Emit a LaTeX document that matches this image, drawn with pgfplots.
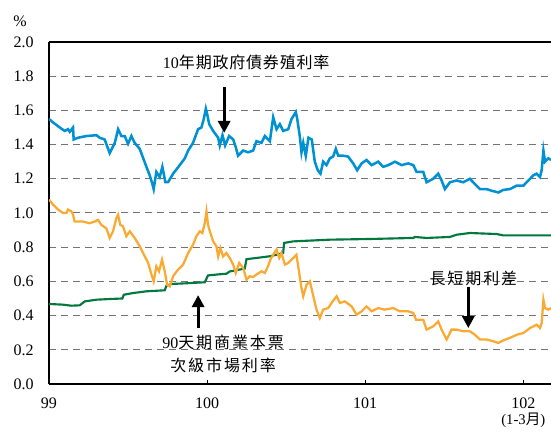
\documentclass[border=0pt]{standalone}
\usepackage{fontspec}
\setmainfont{Liberation Serif}
\newfontfamily\cjk{Noto Sans CJK TC}
\newfontfamily\cjkA[LetterSpace=5]{Noto Sans CJK TC}
\newfontfamily\cjkB[LetterSpace=12]{Noto Sans CJK TC}
\usepackage{pgfplots}
\pgfplotsset{compat=1.18}
\usetikzlibrary{arrows.meta}

\definecolor{bondblue}{RGB}{0,145,213}
\definecolor{cpgreen}{RGB}{0,120,62}
\definecolor{spreadorange}{RGB}{250,170,50}

\begin{document}
\begin{tikzpicture}
\begin{axis}[
  name=ax,
  scale only axis, width=376.5pt, height=256.5pt,
  xmin=0, xmax=3.175, ymin=0, ymax=2,
  axis x line*=bottom, axis y line*=left,
  axis line style={black, line width=0.9pt, -},
  xtick={0,1,2,3},
  xticklabels={99,100,101,{102\\{\fontsize{11}{11}\selectfont(1-3{\cjk 月})}}},
  xticklabel style={align=center, yshift=-9pt, inner sep=1pt, font=\fontsize{12}{12}\selectfont},
  ytick={0,0.2,0.4,0.6,0.8,1.0,1.2,1.4,1.6,1.8,2.0},
  yticklabel style={xshift=-8pt, font=\fontsize{12}{14}\selectfont,
    /pgf/number format/.cd, fixed, fixed zerofill, precision=1},
  /pgf/number format/assume math mode=true,
  tick align=inside, major tick length=3pt,
  xtick style={black, line width=0.75pt},
  ytick style={draw=none},
  ymajorgrids,
  major grid style={black!55, line width=0.75pt, dash pattern=on 5.25pt off 3.75pt},
]
% 90天期商業本票次級市場利率
\addplot[cpgreen, line width=1.6pt] coordinates {
(0.000,0.468) (0.089,0.464) (0.141,0.458) (0.194,0.460) (0.226,0.483)
(0.300,0.493) (0.384,0.497) (0.464,0.500) (0.473,0.522) (0.532,0.532)
(0.616,0.542) (0.732,0.548) (0.743,0.575) (0.774,0.585) (0.869,0.589)
(0.985,0.595) (1.006,0.635) (1.059,0.640) (1.122,0.645) (1.143,0.658)
(1.238,0.675) (1.249,0.730) (1.312,0.737) (1.397,0.747) (1.439,0.756)
(1.481,0.766) (1.487,0.825) (1.544,0.834) (1.776,0.844) (2.030,0.848)
(2.304,0.854) (2.314,0.860) (2.388,0.854) (2.536,0.860) (2.578,0.873)
(2.662,0.883) (2.831,0.877) (2.873,0.869) (3.175,0.869)
};
% 長短期利差
\addplot[spreadorange, line width=1.7pt] coordinates {
(0.000,1.078) (0.025,1.050) (0.057,1.020) (0.089,1.000) (0.110,1.000)
(0.120,1.020) (0.141,1.010) (0.152,0.990) (0.162,0.950) (0.215,0.950)
(0.257,0.940) (0.289,0.950) (0.310,0.960) (0.331,0.930) (0.363,0.910)
(0.384,0.854) (0.405,0.893) (0.426,0.970) (0.437,0.990) (0.451,0.930)
(0.468,0.922) (0.489,0.864) (0.511,0.893) (0.542,0.854) (0.574,0.805)
(0.595,0.766) (0.627,0.708) (0.648,0.640) (0.662,0.600) (0.679,0.688)
(0.696,0.659) (0.715,0.727) (0.732,0.659) (0.747,0.580) (0.764,0.571)
(0.785,0.630) (0.816,0.669) (0.848,0.698) (0.880,0.766) (0.911,0.815)
(0.932,0.864) (0.954,0.893) (0.970,0.883) (0.985,0.940) (0.996,1.010)
(1.006,0.930) (1.021,0.883) (1.038,0.834) (1.059,0.805) (1.070,0.746)
(1.084,0.795) (1.101,0.746) (1.122,0.766) (1.143,0.737) (1.165,0.698)
(1.181,0.649) (1.203,0.708) (1.228,0.678) (1.249,0.610) (1.270,0.630)
(1.291,0.626) (1.312,0.640) (1.344,0.659) (1.365,0.649) (1.386,0.690)
(1.401,0.730) (1.418,0.756) (1.439,0.786) (1.456,0.737) (1.470,0.766)
(1.492,0.698) (1.513,0.708) (1.534,0.727) (1.555,0.747) (1.565,0.756)
(1.576,0.688) (1.597,0.561) (1.608,0.513) (1.629,0.581) (1.650,0.600)
(1.667,0.532) (1.692,0.435) (1.713,0.386) (1.734,0.435) (1.766,0.444)
(1.787,0.474) (1.819,0.513) (1.840,0.474) (1.871,0.483) (1.914,0.454)
(1.945,0.405) (1.977,0.425) (2.008,0.454) (2.040,0.425) (2.082,0.444)
(2.124,0.435) (2.177,0.444) (2.219,0.425) (2.272,0.425) (2.304,0.415)
(2.321,0.376) (2.367,0.376) (2.388,0.318) (2.430,0.337) (2.462,0.366)
(2.483,0.318) (2.515,0.260) (2.546,0.318) (2.578,0.318) (2.620,0.308)
(2.662,0.308) (2.694,0.288) (2.726,0.260) (2.768,0.260) (2.810,0.250)
(2.842,0.240) (2.873,0.255) (2.916,0.270) (2.958,0.288) (3.000,0.298)
(3.042,0.327) (3.084,0.347) (3.105,0.327) (3.116,0.357) (3.127,0.493)
(3.137,0.444) (3.158,0.435) (3.175,0.444)
};
% 10年期政府債券殖利率
\addplot[bondblue, line width=1.9pt] coordinates {
(0.000,1.550) (0.025,1.530) (0.068,1.500) (0.099,1.480) (0.120,1.490)
(0.131,1.475) (0.152,1.500) (0.156,1.430) (0.184,1.440) (0.236,1.450)
(0.300,1.455) (0.321,1.440) (0.352,1.430) (0.384,1.350) (0.416,1.410)
(0.437,1.490) (0.458,1.450) (0.479,1.450) (0.500,1.405) (0.521,1.450)
(0.542,1.410) (0.574,1.375) (0.616,1.270) (0.637,1.220) (0.654,1.170)
(0.662,1.140) (0.679,1.240) (0.700,1.210) (0.717,1.270) (0.736,1.180)
(0.753,1.180) (0.785,1.230) (0.827,1.280) (0.859,1.320) (0.880,1.365)
(0.911,1.410) (0.943,1.490) (0.964,1.500) (0.979,1.550) (0.992,1.610)
(1.000,1.580) (1.013,1.520) (1.038,1.480) (1.070,1.440) (1.080,1.395)
(1.097,1.455) (1.114,1.395) (1.139,1.450) (1.165,1.430) (1.181,1.385)
(1.196,1.335) (1.228,1.365) (1.259,1.355) (1.291,1.365) (1.312,1.420)
(1.344,1.410) (1.365,1.450) (1.397,1.420) (1.418,1.560) (1.439,1.490)
(1.460,1.520) (1.481,1.480) (1.513,1.490) (1.534,1.550) (1.561,1.590)
(1.570,1.550) (1.586,1.450) (1.597,1.355) (1.608,1.410) (1.624,1.335)
(1.641,1.440) (1.662,1.430) (1.681,1.300) (1.700,1.250) (1.717,1.230)
(1.734,1.300) (1.755,1.280) (1.776,1.320) (1.797,1.330) (1.814,1.375)
(1.829,1.335) (1.861,1.335) (1.892,1.330) (1.924,1.290) (1.949,1.250)
(1.977,1.290) (2.008,1.310) (2.040,1.280) (2.082,1.300) (2.114,1.270)
(2.146,1.280) (2.188,1.300) (2.230,1.280) (2.272,1.290) (2.304,1.280)
(2.325,1.240) (2.367,1.240) (2.388,1.180) (2.430,1.200) (2.462,1.230)
(2.483,1.190) (2.504,1.140) (2.536,1.180) (2.578,1.190) (2.620,1.180)
(2.662,1.200) (2.693,1.170) (2.726,1.140) (2.768,1.140) (2.800,1.130)
(2.842,1.120) (2.873,1.135) (2.916,1.140) (2.958,1.160) (3.000,1.160)
(3.032,1.190) (3.063,1.220) (3.084,1.230) (3.105,1.210) (3.116,1.250)
(3.127,1.365) (3.137,1.300) (3.158,1.320) (3.175,1.310)
};
\draw[black, line width=0.9pt] (rel axis cs:0,1) -- (rel axis cs:1,1);
\node[font=\fontsize{12}{14}\selectfont] at (axis cs:1.247,1.883) {10{\cjkA 年期政府債券殖利率}};
\draw[-{Triangle[length=9pt,width=9pt]}, line width=2.2pt] (axis cs:1.108,1.737) -- (axis cs:1.108,1.468);
\node[font=\fontsize{12}{14}\selectfont] at (axis cs:1.101,0.246) {90{\cjkB 天期商業本票}};
\node[font=\fontsize{12}{14}\selectfont] at (axis cs:1.101,0.111) {{\cjkB 次級市場利率}};
\draw[-{Triangle[length=9pt,width=9pt]}, line width=2.2pt] (axis cs:0.943,0.327) -- (axis cs:0.943,0.520);
\node[font=\fontsize{12}{14}\selectfont] at (axis cs:2.684,0.620) {{\cjkB 長短期利差}};
\draw[-{Triangle[length=9pt,width=9pt]}, line width=2.2pt] (axis cs:2.652,0.567) -- (axis cs:2.652,0.327);
\end{axis}
\node[font=\fontsize{12}{14}\selectfont, xshift=-21.75pt, yshift=15.75pt] at (ax.north west) {\%};
\pgfresetboundingbox
\path ([xshift=-36.75pt,yshift=-37.5pt]ax.south west) rectangle ([yshift=31.5pt]ax.north east);
\end{tikzpicture}
\end{document}
